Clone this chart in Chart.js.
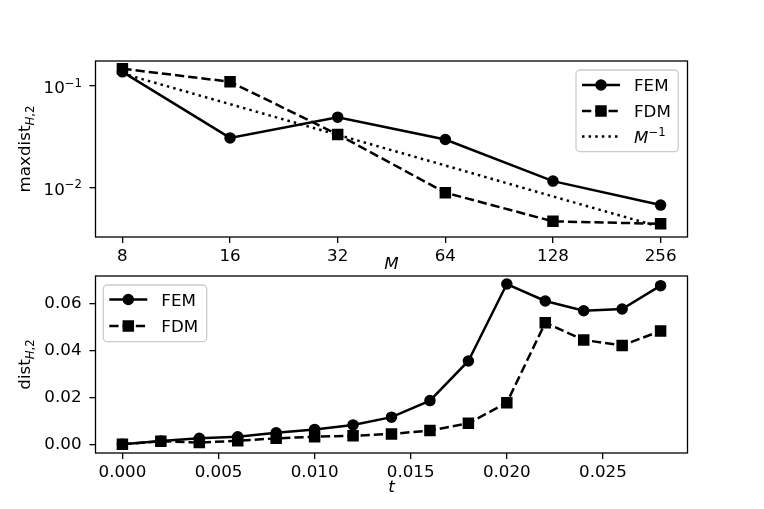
<!DOCTYPE html>
<html><head><meta charset="utf-8">
<script src="https://cdn.jsdelivr.net/npm/chart.js@4.4.1/dist/chart.umd.min.js"></script>
<style>
html,body{margin:0;padding:0;background:#fff;}
#wrap{position:relative;width:764px;height:509px;overflow:hidden;}
canvas{position:absolute;left:0;top:0;}
</style>
</head><body>
<div id="wrap"><canvas id="c1" width="764" height="509"></canvas><canvas id="c2" width="764" height="509"></canvas></div>
<script>
// ---------- data ----------
const M_VALUES = [8, 16, 32, 64, 128, 256];
const FEM_MAX = [0.137, 0.0308, 0.0492, 0.0297, 0.0116, 0.00675];
const FDM_MAX = [0.147, 0.1095, 0.0333, 0.00893, 0.00467, 0.00442];
const REF_MINV = [0.132, 0.066, 0.033, 0.0165, 0.0082, 0.0041];
const TOP_Y_TICKS = [0.01, 0.1];

const T_VALUES = [0, 0.002, 0.004, 0.006, 0.008, 0.010, 0.012, 0.014, 0.016, 0.018, 0.020, 0.022, 0.024, 0.026, 0.028];
const FEM_DIST = [0.0003, 0.0017, 0.0028, 0.0035, 0.0052, 0.0066, 0.0085, 0.0118, 0.0188, 0.0356, 0.0682, 0.0610, 0.0569, 0.0576, 0.0675];
const FDM_DIST = [0.0003, 0.0016, 0.0010, 0.0018, 0.0028, 0.0035, 0.0039, 0.0047, 0.0061, 0.0092, 0.0179, 0.0518, 0.0445, 0.0422, 0.0483];
const BOTTOM_X_TICKS = [0, 0.005, 0.010, 0.015, 0.020, 0.025];
const BOTTOM_Y_TICKS = [0, 0.02, 0.04, 0.06];

// ---------- style ----------
const FONT = 'DejaVu Sans';
const FS = 16.7, FS_SMALL = 11.7;
const LW = 2.5;
const DASH = [9.25, 4];
const DOT = [2.5, 4.1];

Chart.defaults.font.family = FONT;
Chart.defaults.font.size = FS;
Chart.defaults.color = '#000';

function fontStr(p){ return (p.i ? 'italic ' : '') + (p.s || FS) + 'px "' + FONT + '"'; }
function drawParts(ctx, x, y, parts, align){
  let w = 0;
  parts.forEach(p => { ctx.font = fontStr(p); w += ctx.measureText(p.t).width; });
  let cx = align === 'right' ? x - w : (align === 'center' ? x - w / 2 : x);
  ctx.textAlign = 'left';
  ctx.textBaseline = 'alphabetic';
  parts.forEach(p => { ctx.font = fontStr(p); ctx.fillText(p.t, cx, y + (p.dy || 0)); cx += ctx.measureText(p.t).width; });
}
function drawMarker(ctx, type, x, y){
  ctx.save();
  ctx.setLineDash([]);
  ctx.fillStyle = '#000'; ctx.strokeStyle = '#000'; ctx.lineWidth = 1.5;
  ctx.beginPath();
  if (type === 'circle') { ctx.arc(x, y, 5, 0, Math.PI * 2); }
  else if (type === 'rect') { ctx.rect(x - 5, y - 5, 10, 10); }
  ctx.fill(); ctx.stroke();
  ctx.restore();
}
function drawLegend(ctx, box, rows){
  ctx.save();
  ctx.globalAlpha = 0.8;
  ctx.fillStyle = '#fff';
  ctx.strokeStyle = '#cccccc';
  ctx.lineWidth = 1.3;
  ctx.beginPath();
  ctx.roundRect(box.x, box.y, box.w, box.h, 4);
  ctx.fill();
  ctx.globalAlpha = 1;
  ctx.stroke();
  rows.forEach(r => {
    const x1 = box.x + 6, x2 = box.x + 44, xm = (x1 + x2) / 2;
    ctx.strokeStyle = '#000'; ctx.lineWidth = LW;
    ctx.setLineDash(r.dash);
    ctx.beginPath(); ctx.moveTo(x1, r.y); ctx.lineTo(x2, r.y); ctx.stroke();
    ctx.setLineDash([]);
    if (r.marker) drawMarker(ctx, r.marker, xm, r.y);
    ctx.fillStyle = '#000';
    drawParts(ctx, box.x + 58, r.y + 6, r.parts, 'left');
  });
  ctx.restore();
}
function frame(chart){
  const a = chart.chartArea, ctx = chart.ctx;
  ctx.save();
  ctx.strokeStyle = '#000'; ctx.lineWidth = 1.3; ctx.setLineDash([]);
  ctx.strokeRect(a.left, a.top, a.right - a.left, a.bottom - a.top);
  ctx.restore();
}

function lineDs(label, xs, ys, dash, marker){
  return {
    label, data: xs.map((x, i) => ({x, y: ys[i]})),
    borderColor: '#000', backgroundColor: '#000', borderWidth: LW, borderDash: dash,
    pointStyle: marker || 'circle', pointRadius: marker ? (marker === 'rect' ? 7.07 : 5) : 0,
    pointBorderWidth: 1.5, pointBackgroundColor: '#000', pointBorderColor: '#000',
    tension: 0, fill: false
  };
}
const gridOpts = {display: true, drawOnChartArea: false, drawTicks: true, tickLength: 6, color: '#000', lineWidth: 1.3};
function fixX(h){ return s => { s.height = h; s.paddingLeft = 0; s.paddingRight = 0; s.paddingTop = 0; s.paddingBottom = 0; }; }
function fixY(w){ return s => { s.width = w; s.paddingLeft = 0; s.paddingRight = 0; s.paddingTop = 0; s.paddingBottom = 0; }; }

// ---------- top chart ----------
new Chart(document.getElementById('c1'), {
  type: 'line',
  data: { datasets: [
    lineDs('FEM', M_VALUES, FEM_MAX, [], 'circle'),
    lineDs('FDM', M_VALUES, FDM_MAX, DASH, 'rect'),
    lineDs('M^-1', M_VALUES, REF_MINV, DOT, null)
  ]},
  options: {
    responsive: false, animation: false,
    layout: { padding: { left: 0, right: 76.5, top: 61, bottom: 232 } },
    plugins: { legend: { display: false }, tooltip: { enabled: false } },
    scales: {
      x: {
        type: 'logarithmic', min: 6.727, max: 304.4,
        afterBuildTicks: s => { s.ticks = M_VALUES.map(v => ({value: v})); },
        afterFit: fixX(40),
        border: { display: false }, grid: gridOpts,
        ticks: { padding: 4, maxRotation: 0, autoSkip: false, callback: v => String(v) }
      },
      y: {
        type: 'logarithmic', min: 0.00328, max: 0.175,
        afterBuildTicks: s => { s.ticks = TOP_Y_TICKS.map(v => ({value: v})); },
        afterFit: fixY(95.5),
        border: { display: false }, grid: gridOpts,
        ticks: { padding: 8, callback: () => '' }
      }
    }
  },
  plugins: [{
    id: 'topDeco',
    afterDraw(chart){
      frame(chart);
      const ctx = chart.ctx, ys = chart.scales.y;
      ctx.save(); ctx.fillStyle = '#000';
      TOP_Y_TICKS.forEach(v => {
        const py = ys.getPixelForValue(v);
        const e = Math.round(Math.log10(v));
        drawParts(ctx, 82, py + 7.6, [{t: '10'}, {t: '\u2212' + Math.abs(e), s: FS_SMALL, dy: -6.8}], 'right');
      });
      ctx.save();
      ctx.translate(29.7, (chart.chartArea.top + chart.chartArea.bottom) / 2);
      ctx.rotate(-Math.PI / 2);
      drawParts(ctx, 0, 0, [{t: 'maxdist'}, {t: 'H', s: FS_SMALL, i: true, dy: 4}, {t: ',2', s: FS_SMALL, dy: 4}], 'center');
      ctx.restore();
      drawParts(ctx, (chart.chartArea.left + chart.chartArea.right) / 2, 269.3, [{t: 'M', i: true}], 'center');
      drawLegend(ctx, {x: 576, y: 70, w: 102.3, h: 81.7}, [
        {y: 85, dash: [], marker: 'circle', parts: [{t: 'FEM'}]},
        {y: 111, dash: DASH, marker: 'rect', parts: [{t: 'FDM'}]},
        {y: 136.5, dash: DOT, marker: null, parts: [{t: 'M', i: true}, {t: '\u22121', s: FS_SMALL, dy: -6.8}]}
      ]);
      ctx.restore();
    }
  }]
});

// ---------- bottom chart ----------
new Chart(document.getElementById('c2'), {
  type: 'line',
  data: { datasets: [
    lineDs('FEM', T_VALUES, FEM_DIST, [], 'circle'),
    lineDs('FDM', T_VALUES, FDM_DIST, DASH, 'rect')
  ]},
  options: {
    responsive: false, animation: false,
    layout: { padding: { left: 0, right: 76.5, top: 276, bottom: 0 } },
    plugins: { legend: { display: false }, tooltip: { enabled: false } },
    scales: {
      x: {
        type: 'linear', min: -0.0014, max: 0.0294,
        afterBuildTicks: s => { s.ticks = BOTTOM_X_TICKS.map(v => ({value: v})); },
        afterFit: fixX(56),
        border: { display: false }, grid: gridOpts,
        ticks: { padding: 4, maxRotation: 0, autoSkip: false, callback: v => Number(v).toFixed(3) }
      },
      y: {
        type: 'linear', min: -0.0034, max: 0.0716,
        afterBuildTicks: s => { s.ticks = BOTTOM_Y_TICKS.map(v => ({value: v})); },
        afterFit: fixY(95.5),
        border: { display: false }, grid: gridOpts,
        ticks: { padding: 8, callback: v => Number(v).toFixed(2) }
      }
    }
  },
  plugins: [{
    id: 'botDeco',
    afterDraw(chart){
      frame(chart);
      const ctx = chart.ctx;
      ctx.save(); ctx.fillStyle = '#000';
      ctx.save();
      ctx.translate(29.7, (chart.chartArea.top + chart.chartArea.bottom) / 2);
      ctx.rotate(-Math.PI / 2);
      drawParts(ctx, 0, 0, [{t: 'dist'}, {t: 'H', s: FS_SMALL, i: true, dy: 4}, {t: ',2', s: FS_SMALL, dy: 4}], 'center');
      ctx.restore();
      drawParts(ctx, (chart.chartArea.left + chart.chartArea.right) / 2, 491.5, [{t: 't', i: true}], 'center');
      drawLegend(ctx, {x: 103.3, y: 285, w: 103.4, h: 56.7}, [
        {y: 299.5, dash: [], marker: 'circle', parts: [{t: 'FEM'}]},
        {y: 326, dash: DASH, marker: 'rect', parts: [{t: 'FDM'}]}
      ]);
      ctx.restore();
    }
  }]
});
</script>
</body></html>
